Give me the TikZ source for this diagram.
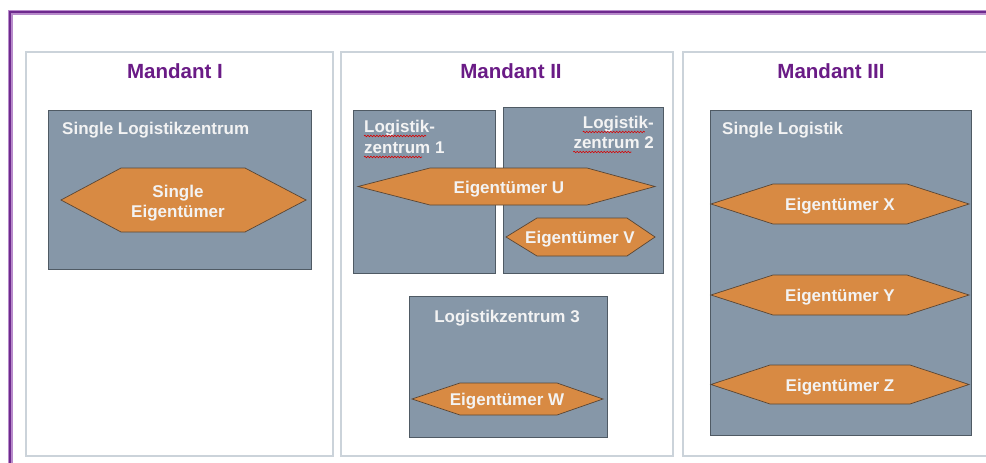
\documentclass[tikz,border=0pt]{standalone}
\usepackage{fontspec}
\setmainfont{Liberation Sans}
\usetikzlibrary{decorations.pathmorphing}

\definecolor{framepurple}{HTML}{6E2A8E}
\definecolor{framelight}{HTML}{B88BCB}
\definecolor{titlepurple}{HTML}{6A1B86}
\definecolor{panelline}{HTML}{CBD3DA}
\definecolor{boxgray}{HTML}{8697A8}
\definecolor{boxline}{HTML}{4F5A64}
\definecolor{ownerorange}{HTML}{D88A43}
\definecolor{ownerline}{HTML}{5A4634}
\definecolor{labelwhite}{HTML}{F3F3F3}

\tikzset{
  panel/.style={draw=panelline, line width=1.5pt},
  sitebox/.style={fill=boxgray, draw=boxline, line width=1pt},
  ownerhexa/.style={fill=ownerorange, draw=ownerline, line width=0.7pt, line join=miter},
  titletext/.style={text=titlepurple, font=\fontsize{20.5}{24}\selectfont\bfseries, inner sep=0pt},
  sitetext/.style={text=labelwhite, font=\fontsize{17}{21}\selectfont\bfseries, inner sep=0pt},
  ownertext/.style={text=labelwhite, font=\fontsize{17}{21}\selectfont\bfseries, inner sep=0pt, align=center},
  spellmark/.style={draw=red!85!black, line width=0.6pt,
    decorate, decoration={snake, amplitude=0.8pt, segment length=3pt}}
}

% hexagon: left tip x, top-left x, top-right x, right tip x, top y, bottom y
\newcommand{\ownerhex}[6]{%
  \draw[ownerhexa] (#1,{(#5+#6)/2}) -- (#2,#5) -- (#3,#5) -- (#4,{(#5+#6)/2})
    -- (#3,#6) -- (#2,#6) -- cycle;}

\begin{document}
\begin{tikzpicture}[x=1pt, y=-1pt]
\useasboundingbox (0,0) rectangle (986,463);
\fill[white] (0,0) rectangle (986,463);

% outer purple frame (left and top edges)
\draw[framelight, line width=5pt] (10,470) -- (10,12) -- (990,12);
\draw[framepurple, line width=2.5pt] (10,470) -- (10,12) -- (990,12);

% three client panels
\draw[panel] (26,52) rectangle (333,456);
\draw[panel] (341,52) rectangle (673,456);
\draw[panel] (990,52) -- (683,52) -- (683,456) -- (990,456);

\node[titletext, anchor=base] (m1) at (175,78) {Mandant I};
\node[titletext, anchor=base] (m2) at (511,78) {Mandant II};
\node[titletext, anchor=base] (m3) at (831,78) {Mandant III};

% ---- Mandant I
\draw[sitebox] (48,110) rectangle (311,269);
\node[sitetext, anchor=base west] (s1) at (62,134) {Single Logistikzentrum};
\ownerhex{61}{121}{245}{306}{168}{232}
\node[ownertext] (o1) at (178,203) {Single\\[-1pt]Eigentümer};

% ---- Mandant II
\draw[sitebox] (353,110) rectangle (495,273);
\draw[sitebox] (503,107) rectangle (663,273);
\node[sitetext, anchor=base west] (lz1a) at (364,132) {Logistik-};
\node[sitetext, anchor=base west] (lz1b) at (364,153) {zentrum 1};
\node[sitetext, anchor=base east] (lz2a) at (654,128) {Logistik-};
\node[sitetext, anchor=base east] (lz2b) at (654,148) {zentrum 2};
\draw[spellmark] (lz1a.base west) ++(0,4) -- ++(62,0);
\draw[spellmark] (lz1b.base west) ++(0,4) -- ++(58,0);
\draw[spellmark] (lz2a.base west) ++(0,4) -- ++(62,0);
\draw[spellmark] (lz2b.base west) ++(0,4) -- ++(58,0);

\ownerhex{358}{430}{587}{655}{168}{205}
\node[ownertext] (ou) at (509,189) {Eigentümer U};
\ownerhex{506}{537}{627}{655}{218}{256}
\node[ownertext] (ov) at (580,239) {Eigentümer V};

\draw[sitebox] (409,296) rectangle (607,437);
\node[sitetext, anchor=base] (lz3) at (507,322) {Logistikzentrum 3};
\ownerhex{412}{460}{557}{603}{383}{415}
\node[ownertext] (ow) at (507,401) {Eigentümer W};

% ---- Mandant III
\draw[sitebox] (710,110) rectangle (971,435);
\node[sitetext, anchor=base west] (s3) at (722,134) {Single Logistik};
\ownerhex{711}{773}{907}{969}{184}{224}
\node[ownertext] (ox) at (840,206) {Eigentümer X};
\ownerhex{711}{773}{907}{969}{275}{315}
\node[ownertext] (oy) at (840,297) {Eigentümer Y};
\ownerhex{711}{770}{910}{969}{365}{404}
\node[ownertext] (oz) at (840,387) {Eigentümer Z};
\end{tikzpicture}
\end{document}
